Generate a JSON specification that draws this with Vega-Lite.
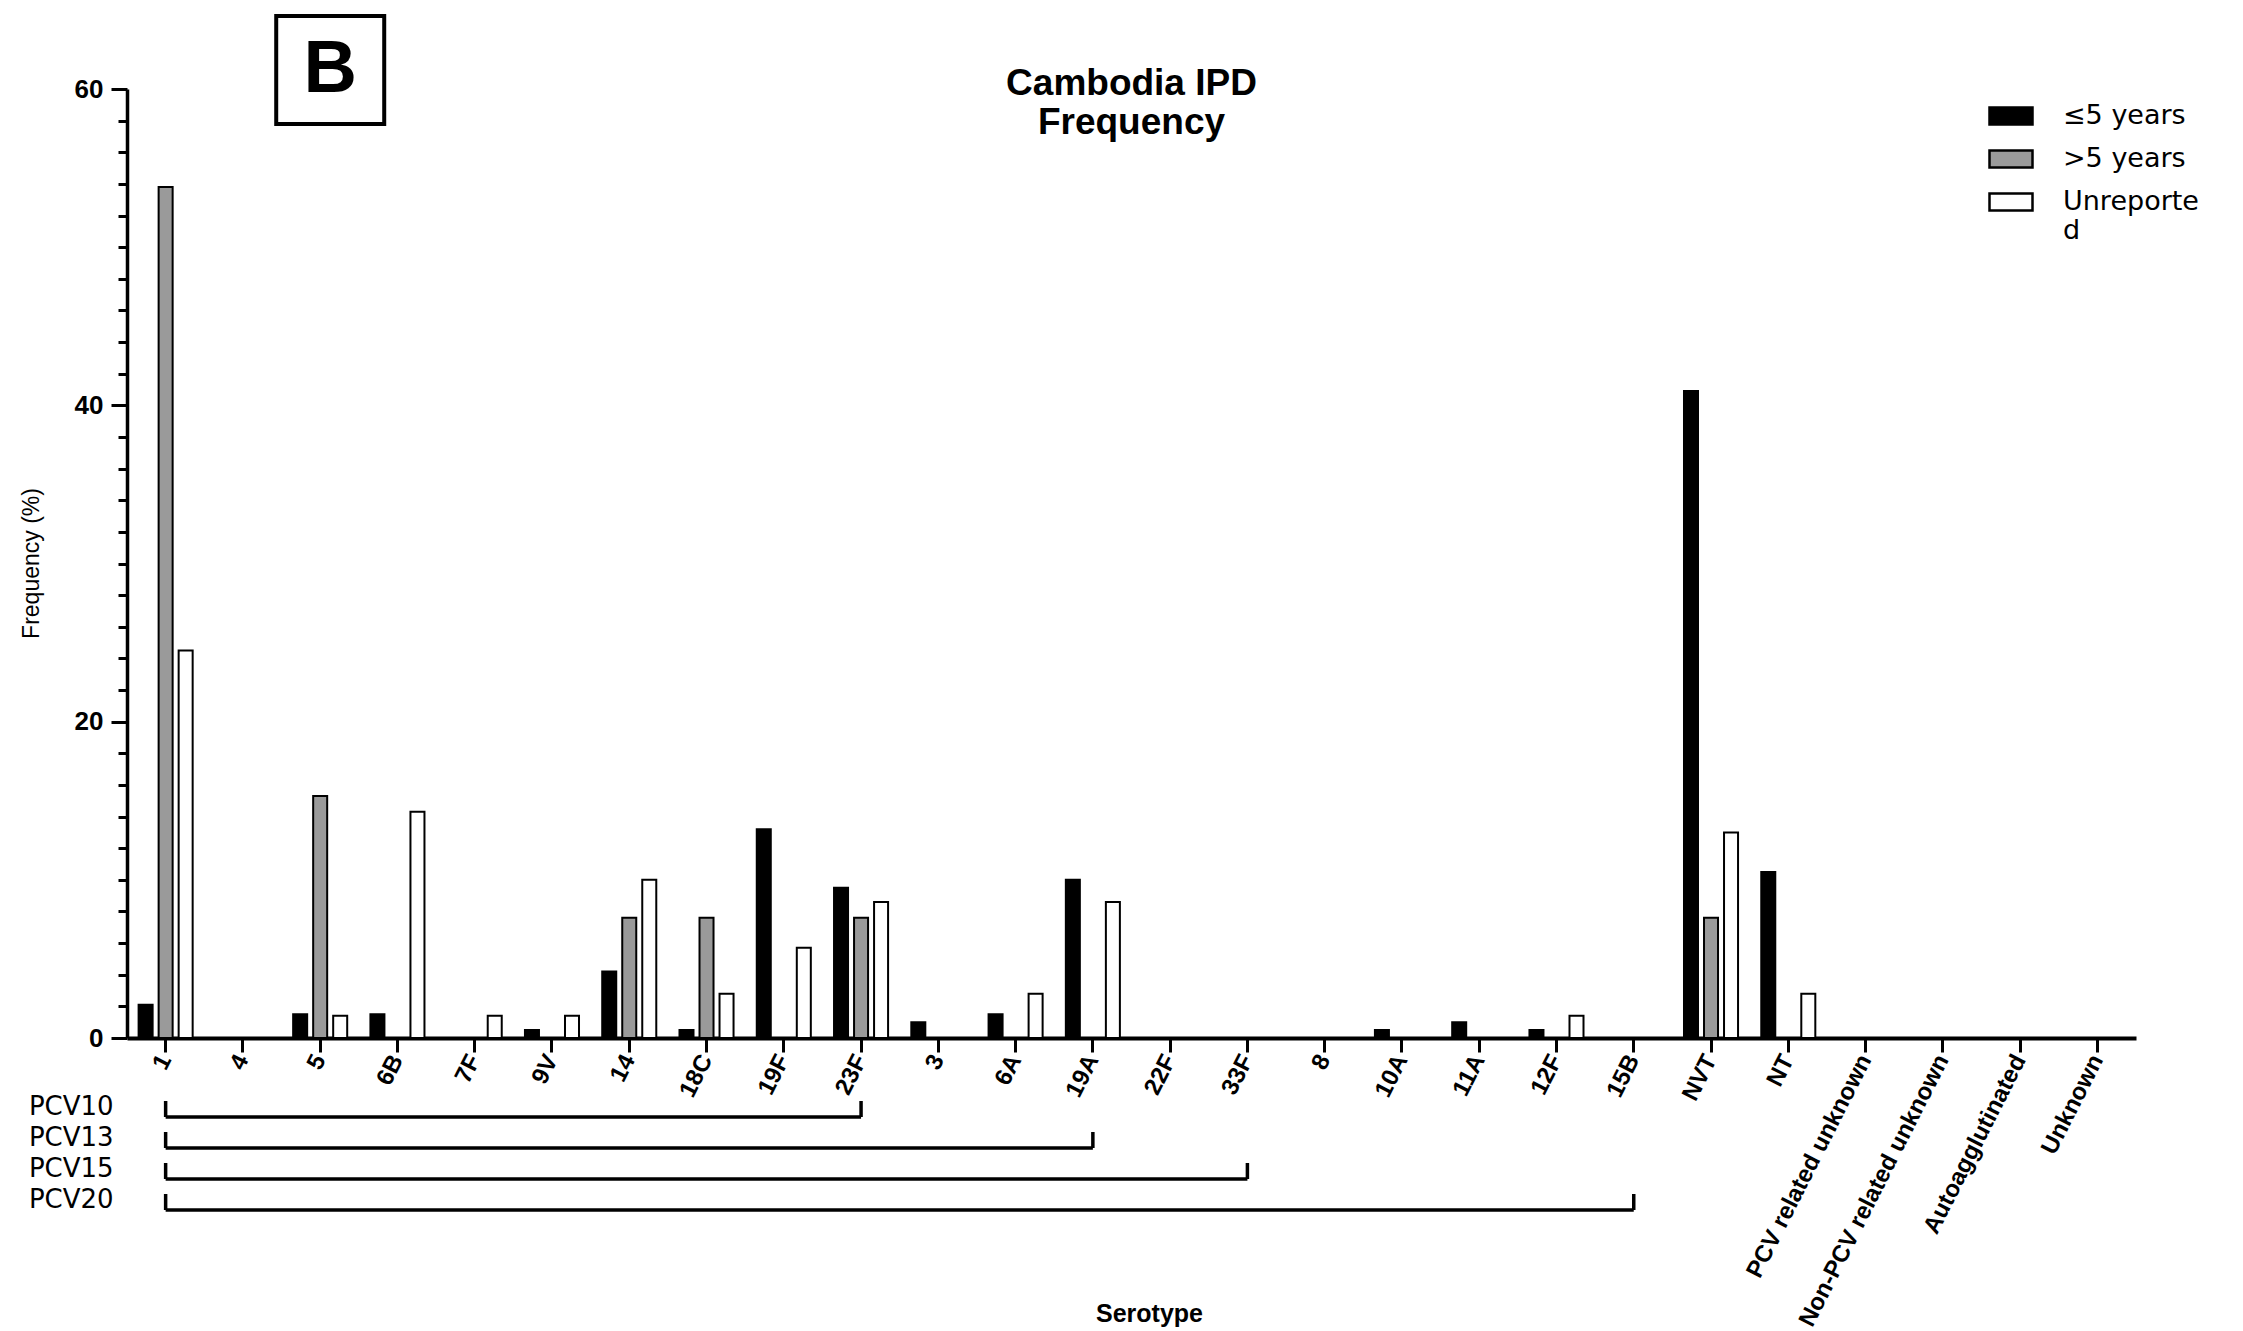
{
  "$schema": "https://vega.github.io/schema/vega-lite/v6.json",
  "width": 2009,
  "height": 949,
  "autosize": {"type": "none"},
  "padding": {"left": 127, "top": 89, "right": 107, "bottom": 293},
  "background": "white",
  "config": {"view": {"stroke": null}, "font": "Liberation Sans"},
  "title": {
    "text": ["Cambodia IPD", "Frequency"],
    "fontSize": 37,
    "fontWeight": "bold",
    "font": "Liberation Sans",
    "color": "black",
    "anchor": "middle",
    "frame": "group",
    "lineHeight": 39,
    "baseline": "top",
    "offset": 0,
    "dy": 134
  },
  "datasets": {
    "freq": [
      {"serotype": "1", "age": "≤5 years", "value": 2.1},
      {"serotype": "1", "age": ">5 years", "value": 53.8},
      {"serotype": "1", "age": "Unreported", "value": 24.5},
      {"serotype": "5", "age": "≤5 years", "value": 1.5},
      {"serotype": "5", "age": ">5 years", "value": 15.3},
      {"serotype": "5", "age": "Unreported", "value": 1.4},
      {"serotype": "6B", "age": "≤5 years", "value": 1.5},
      {"serotype": "6B", "age": "Unreported", "value": 14.3},
      {"serotype": "7F", "age": "Unreported", "value": 1.4},
      {"serotype": "9V", "age": "≤5 years", "value": 0.5},
      {"serotype": "9V", "age": "Unreported", "value": 1.4},
      {"serotype": "14", "age": "≤5 years", "value": 4.2},
      {"serotype": "14", "age": ">5 years", "value": 7.6},
      {"serotype": "14", "age": "Unreported", "value": 10.0},
      {"serotype": "18C", "age": "≤5 years", "value": 0.5},
      {"serotype": "18C", "age": ">5 years", "value": 7.6},
      {"serotype": "18C", "age": "Unreported", "value": 2.8},
      {"serotype": "19F", "age": "≤5 years", "value": 13.2},
      {"serotype": "19F", "age": "Unreported", "value": 5.7},
      {"serotype": "23F", "age": "≤5 years", "value": 9.5},
      {"serotype": "23F", "age": ">5 years", "value": 7.6},
      {"serotype": "23F", "age": "Unreported", "value": 8.6},
      {"serotype": "3", "age": "≤5 years", "value": 1.0},
      {"serotype": "6A", "age": "≤5 years", "value": 1.5},
      {"serotype": "6A", "age": "Unreported", "value": 2.8},
      {"serotype": "19A", "age": "≤5 years", "value": 10.0},
      {"serotype": "19A", "age": "Unreported", "value": 8.6},
      {"serotype": "10A", "age": "≤5 years", "value": 0.5},
      {"serotype": "11A", "age": "≤5 years", "value": 1.0},
      {"serotype": "12F", "age": "≤5 years", "value": 0.5},
      {"serotype": "12F", "age": "Unreported", "value": 1.4},
      {"serotype": "NVT", "age": "≤5 years", "value": 40.9},
      {"serotype": "NVT", "age": ">5 years", "value": 7.6},
      {"serotype": "NVT", "age": "Unreported", "value": 13.0},
      {"serotype": "NT", "age": "≤5 years", "value": 10.5},
      {"serotype": "NT", "age": "Unreported", "value": 2.8}
    ],
    "pcv": [
      {"vaccine": "PCV10", "first": "1", "last": "23F"},
      {"vaccine": "PCV13", "first": "1", "last": "19A"},
      {"vaccine": "PCV15", "first": "1", "last": "33F"},
      {"vaccine": "PCV20", "first": "1", "last": "15B"}
    ],
    "panel": [{"label": "B"}]
  },
  "resolve": {"scale": {"y": "independent"}},
  "layer": [
    {
      "data": {"name": "freq"},
      "mark": {"type": "bar", "stroke": "black", "strokeWidth": 2},
      "encoding": {
        "x": {
          "field": "serotype",
          "type": "nominal",
          "scale": {
            "domain": ["1","4","5","6B","7F","9V","14","18C","19F","23F","3","6A","19A","22F","33F","8","10A","11A","12F","15B","NVT","NT","PCV related unknown","Non-PCV related unknown","Autoagglutinated","Unknown"],
            "paddingInner": 0,
            "paddingOuter": 0
          },
          "axis": {
            "title": "Serotype",
            "titleFont": "Liberation Sans",
            "titleFontSize": 25,
            "titleFontWeight": "bold",
            "titleColor": "black",
            "titleX": 1022,
            "titleY": 275,
            "titleBaseline": "middle",
            "titleAlign": "center",
            "labelAngle": -63,
            "labelAlign": "right",
            "labelBaseline": "middle",
            "labelFont": "Liberation Sans",
            "labelFontSize": 24,
            "labelFontWeight": "bold",
            "labelColor": "black",
            "labelPadding": 4,
            "labelLimit": 500,
            "labelOverlap": false,
            "tickSize": 14,
            "tickWidth": 3,
            "tickColor": "black",
            "domainWidth": 4,
            "domainColor": "black",
            "grid": false
          }
        },
        "xOffset": {
          "field": "age",
          "type": "nominal",
          "scale": {"domain": ["≤5 years", ">5 years", "Unreported"], "paddingInner": 0.3, "paddingOuter": 0.58}
        },
        "y": {
          "field": "value",
          "type": "quantitative",
          "scale": {"domain": [0, 60], "nice": false},
          "axis": {
            "title": "Frequency (%)",
            "titleFont": "Liberation Sans",
            "titleFontSize": 23,
            "titleFontWeight": "normal",
            "titleColor": "black",
            "titleX": -96,
            "titleY": 474,
            "titleAngle": -90,
            "titleBaseline": "middle",
            "titleAlign": "center",
            "values": [0,2,4,6,8,10,12,14,16,18,20,22,24,26,28,30,32,34,36,38,40,42,44,46,48,50,52,54,56,58,60],
            "labelExpr": "datum.value % 20 === 0 ? datum.label : ''",
            "labelFont": "Liberation Sans",
            "labelFontSize": 26,
            "labelFontWeight": "bold",
            "labelColor": "black",
            "labelPadding": 8,
            "labelOverlap": false,
            "labelFlush": false,
            "tickSize": {"condition": {"test": "datum.value % 20 === 0", "value": 16}, "value": 9},
            "tickWidth": 3,
            "tickColor": "black",
            "domainWidth": 3.5,
            "domainColor": "black",
            "grid": false
          }
        },
        "color": {
          "field": "age",
          "type": "nominal",
          "scale": {"domain": ["≤5 years", ">5 years", "Unreported"], "range": ["#000000", "#9a9a9a", "#ffffff"]},
          "legend": {
            "title": null,
            "orient": "none",
            "legendX": 1861,
            "legendY": 4,
            "direction": "vertical",
            "padding": 0,
            "symbolType": "M-1,-0.4H1V0.4H-1Z",
            "symbolSize": 1849,
            "symbolStrokeColor": "black",
            "symbolStrokeWidth": 2.5,
            "labelFont": "DejaVu Sans",
            "labelFontSize": 27,
            "labelColor": "black",
            "labelOffset": 29,
            "labelLimit": 300,
            "rowPadding": 6,
            "labelExpr": "datum.label === 'Unreported' ? ['Unreporte', 'd'] : datum.label"
          }
        }
      }
    },
    {
      "data": {"name": "pcv"},
      "mark": {"type": "rule", "color": "black", "strokeWidth": 3.5},
      "encoding": {
        "x": {"field": "first", "type": "nominal", "scale": {"domain": ["1","4","5","6B","7F","9V","14","18C","19F","23F","3","6A","19A","22F","33F","8","10A","11A","12F","15B","NVT","NT","PCV related unknown","Non-PCV related unknown","Autoagglutinated","Unknown"]}},
        "x2": {"field": "last"},
        "y": {"field": "vaccine", "type": "nominal", "scale": {"type": "point", "domain": ["PCV10","PCV13","PCV15","PCV20"], "range": [1028, 1121], "padding": 0}, "axis": null}
      }
    },
    {
      "data": {"name": "pcv"},
      "mark": {"type": "point", "shape": "M0,-1V0", "size": 1024, "filled": false, "stroke": "black", "strokeWidth": 3.5, "opacity": 1},
      "encoding": {
        "x": {"field": "first", "type": "nominal", "scale": {"domain": ["1","4","5","6B","7F","9V","14","18C","19F","23F","3","6A","19A","22F","33F","8","10A","11A","12F","15B","NVT","NT","PCV related unknown","Non-PCV related unknown","Autoagglutinated","Unknown"]}},
        "y": {"field": "vaccine", "type": "nominal", "scale": {"type": "point", "domain": ["PCV10","PCV13","PCV15","PCV20"], "range": [1028, 1121], "padding": 0}, "axis": null}
      }
    },
    {
      "data": {"name": "pcv"},
      "mark": {"type": "point", "shape": "M0,-1V0", "size": 1024, "filled": false, "stroke": "black", "strokeWidth": 3.5, "opacity": 1},
      "encoding": {
        "x": {"field": "last", "type": "nominal", "scale": {"domain": ["1","4","5","6B","7F","9V","14","18C","19F","23F","3","6A","19A","22F","33F","8","10A","11A","12F","15B","NVT","NT","PCV related unknown","Non-PCV related unknown","Autoagglutinated","Unknown"]}},
        "y": {"field": "vaccine", "type": "nominal", "scale": {"type": "point", "domain": ["PCV10","PCV13","PCV15","PCV20"], "range": [1028, 1121], "padding": 0}, "axis": null}
      }
    },
    {
      "data": {"name": "pcv"},
      "mark": {"type": "text", "align": "right", "baseline": "middle", "dx": -52, "dy": -10, "font": "DejaVu Sans", "fontSize": 26, "color": "black"},
      "encoding": {
        "x": {"field": "first", "type": "nominal", "scale": {"domain": ["1","4","5","6B","7F","9V","14","18C","19F","23F","3","6A","19A","22F","33F","8","10A","11A","12F","15B","NVT","NT","PCV related unknown","Non-PCV related unknown","Autoagglutinated","Unknown"]}},
        "y": {"field": "vaccine", "type": "nominal", "scale": {"type": "point", "domain": ["PCV10","PCV13","PCV15","PCV20"], "range": [1028, 1121], "padding": 0}, "axis": null},
        "text": {"field": "vaccine"}
      }
    },
    {
      "data": {"name": "panel"},
      "mark": {"type": "point", "shape": "square", "size": 11664, "filled": false, "stroke": "black", "strokeWidth": 4, "opacity": 1},
      "encoding": {
        "x": {"datum": "5", "type": "nominal", "bandPosition": 0.63, "scale": {"domain": ["1","4","5","6B","7F","9V","14","18C","19F","23F","3","6A","19A","22F","33F","8","10A","11A","12F","15B","NVT","NT","PCV related unknown","Non-PCV related unknown","Autoagglutinated","Unknown"]}},
        "y": {"datum": 61.2, "type": "quantitative", "scale": {"domain": [0, 60], "nice": false}, "axis": null}
      }
    },
    {
      "data": {"name": "panel"},
      "mark": {"type": "text", "align": "center", "baseline": "middle", "font": "Liberation Sans", "fontWeight": "bold", "fontSize": 74, "color": "black"},
      "encoding": {
        "x": {"datum": "5", "type": "nominal", "bandPosition": 0.63, "scale": {"domain": ["1","4","5","6B","7F","9V","14","18C","19F","23F","3","6A","19A","22F","33F","8","10A","11A","12F","15B","NVT","NT","PCV related unknown","Non-PCV related unknown","Autoagglutinated","Unknown"]}},
        "y": {"datum": 61.2, "type": "quantitative", "scale": {"domain": [0, 60], "nice": false}, "axis": null},
        "text": {"field": "label"}
      }
    }
  ]
}
